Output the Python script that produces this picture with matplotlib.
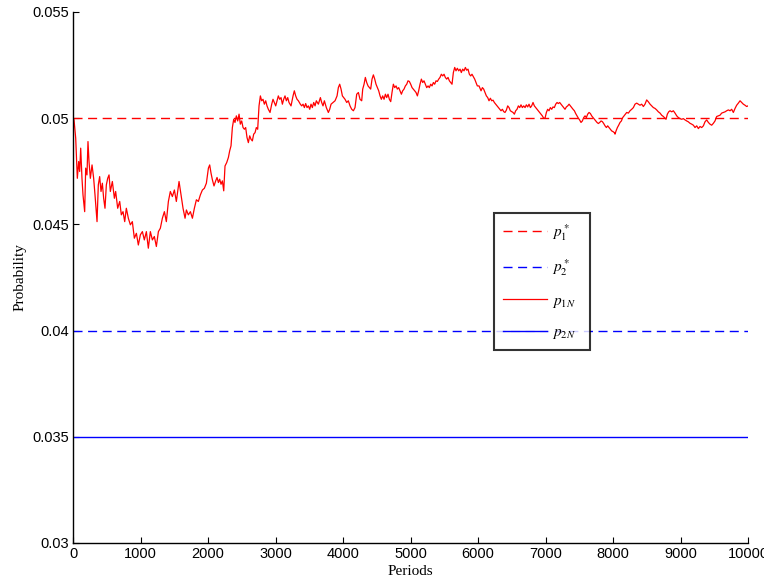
#!/usr/bin/env python3
"Plot the simulated probability p_1N against the fixed levels p_1*, p_2*, p_2N."

import numpy as np
import matplotlib.pyplot as plt

plt.rcParams['lines.scale_dashes'] = False
plt.rcParams['mathtext.fontset'] = 'stix'

# fixed levels
p1_star = 0.05
p2_star = 0.04
p2n = 0.035

# simulated p_1N, (period, probability)
p1n_trace = [
    (0, 0.05000), (15, 0.04992), (40, 0.04906), (64, 0.04717), (84, 0.04796),
    (99, 0.04749), (114, 0.04859), (133, 0.04717), (148, 0.04639), (173, 0.04560),
    (188, 0.04765), (207, 0.04733), (222, 0.04890), (237, 0.04796), (257, 0.04717),
    (282, 0.04780), (306, 0.04717), (326, 0.04639), (356, 0.04513), (375, 0.04686),
    (395, 0.04725), (415, 0.04655), (435, 0.04694), (454, 0.04623), (474, 0.04576),
    (494, 0.04686), (514, 0.04717), (534, 0.04733), (553, 0.04655), (583, 0.04702),
    (613, 0.04623), (632, 0.04655), (662, 0.04576), (692, 0.04608), (716, 0.04545),
    (741, 0.04560), (766, 0.04513), (790, 0.04576), (820, 0.04529), (850, 0.04498),
    (879, 0.04513), (909, 0.04435), (939, 0.04458), (968, 0.04403), (998, 0.04451),
    (1028, 0.04466), (1057, 0.04427), (1087, 0.04466), (1116, 0.04388), (1146, 0.04466),
    (1176, 0.04427), (1205, 0.04443), (1235, 0.04396), (1265, 0.04466), (1294, 0.04482),
    (1324, 0.04529), (1354, 0.04560), (1383, 0.04513), (1413, 0.04608), (1442, 0.04655),
    (1472, 0.04631), (1502, 0.04662), (1531, 0.04608), (1571, 0.04702), (1600, 0.04639),
    (1630, 0.04576), (1660, 0.04529), (1680, 0.04568), (1709, 0.04545), (1739, 0.04560),
    (1769, 0.04529), (1798, 0.04576), (1828, 0.04616), (1857, 0.04608), (1887, 0.04639),
    (1917, 0.04662), (1946, 0.04670), (1976, 0.04694), (2006, 0.04765), (2025, 0.04780),
    (2045, 0.04741), (2065, 0.04710), (2089, 0.04681), (2114, 0.04705), (2134, 0.04721),
    (2154, 0.04697), (2173, 0.04713), (2193, 0.04689), (2213, 0.04705), (2233, 0.04658),
    (2252, 0.04775), (2277, 0.04791), (2302, 0.04815), (2321, 0.04846), (2341, 0.04870),
    (2361, 0.04956), (2381, 0.04995), (2400, 0.04980), (2420, 0.05011), (2440, 0.04987),
    (2460, 0.05019), (2479, 0.04972), (2499, 0.04987), (2519, 0.04956), (2539, 0.04948),
    (2558, 0.04956), (2578, 0.04909), (2598, 0.04885), (2618, 0.04917), (2637, 0.04901),
    (2657, 0.04893), (2677, 0.04925), (2697, 0.04932), (2716, 0.04956), (2736, 0.04948),
    (2756, 0.05058), (2776, 0.05105), (2795, 0.05082), (2815, 0.05089), (2835, 0.05066),
    (2855, 0.05082), (2874, 0.05058), (2894, 0.05042), (2919, 0.05027), (2944, 0.05066),
    (2963, 0.05089), (2983, 0.05074), (3003, 0.05058), (3023, 0.05082), (3042, 0.05105),
    (3062, 0.05089), (3082, 0.05097), (3102, 0.05066), (3121, 0.05089), (3141, 0.05105),
    (3161, 0.05082), (3181, 0.05097), (3200, 0.05074), (3230, 0.05058), (3260, 0.05105),
    (3279, 0.05129), (3299, 0.05105), (3319, 0.05089), (3339, 0.05082), (3368, 0.05066),
    (3388, 0.05058), (3408, 0.05066), (3428, 0.05050), (3447, 0.05069), (3467, 0.05050),
    (3487, 0.05058), (3507, 0.05042), (3526, 0.05066), (3546, 0.05050), (3566, 0.05074),
    (3586, 0.05058), (3605, 0.05082), (3635, 0.05066), (3665, 0.05097), (3684, 0.05074),
    (3704, 0.05058), (3724, 0.05082), (3753, 0.05050), (3783, 0.05027), (3803, 0.05042),
    (3823, 0.05066), (3852, 0.05074), (3882, 0.05082), (3912, 0.05105), (3931, 0.05144),
    (3951, 0.05160), (3971, 0.05137), (3991, 0.05105), (4030, 0.05089), (4055, 0.05074),
    (4079, 0.05082), (4104, 0.05058), (4129, 0.05042), (4154, 0.05035), (4178, 0.05050),
    (4203, 0.05113), (4228, 0.05121), (4252, 0.05089), (4277, 0.05082), (4292, 0.05137),
    (4312, 0.05160), (4331, 0.05192), (4351, 0.05168), (4371, 0.05152), (4391, 0.05144),
    (4410, 0.05137), (4430, 0.05184), (4450, 0.05204), (4470, 0.05184), (4489, 0.05160),
    (4509, 0.05144), (4529, 0.05129), (4549, 0.05105), (4568, 0.05089), (4588, 0.05105),
    (4608, 0.05089), (4628, 0.05113), (4647, 0.05097), (4667, 0.05113), (4687, 0.05089),
    (4707, 0.05078), (4726, 0.05121), (4746, 0.05160), (4766, 0.05144), (4786, 0.05152),
    (4805, 0.05137), (4825, 0.05144), (4845, 0.05129), (4865, 0.05113), (4884, 0.05129),
    (4904, 0.05137), (4924, 0.05152), (4944, 0.05160), (4963, 0.05176), (4983, 0.05173),
    (5003, 0.05160), (5023, 0.05144), (5042, 0.05137), (5062, 0.05129), (5082, 0.05121),
    (5102, 0.05105), (5121, 0.05129), (5141, 0.05160), (5161, 0.05184), (5181, 0.05168),
    (5200, 0.05176), (5220, 0.05160), (5240, 0.05144), (5260, 0.05152), (5279, 0.05144),
    (5299, 0.05160), (5319, 0.05152), (5339, 0.05168), (5358, 0.05160), (5378, 0.05176),
    (5398, 0.05173), (5418, 0.05184), (5437, 0.05192), (5457, 0.05207), (5477, 0.05199),
    (5497, 0.05207), (5516, 0.05192), (5536, 0.05184), (5556, 0.05192), (5576, 0.05176),
    (5595, 0.05168), (5615, 0.05160), (5635, 0.05215), (5655, 0.05239), (5674, 0.05223),
    (5694, 0.05235), (5714, 0.05223), (5734, 0.05231), (5753, 0.05215), (5773, 0.05231),
    (5793, 0.05223), (5813, 0.05239), (5832, 0.05226), (5852, 0.05231), (5872, 0.05207),
    (5892, 0.05199), (5911, 0.05207), (5931, 0.05195), (5951, 0.05184), (5971, 0.05168),
    (5990, 0.05152), (6015, 0.05152), (6045, 0.05129), (6065, 0.05144), (6084, 0.05137),
    (6104, 0.05121), (6124, 0.05105), (6144, 0.05097), (6163, 0.05082), (6183, 0.05094),
    (6203, 0.05082), (6223, 0.05085), (6242, 0.05074), (6262, 0.05066), (6282, 0.05058),
    (6302, 0.05050), (6321, 0.05042), (6341, 0.05035), (6361, 0.05042), (6381, 0.05031),
    (6400, 0.05027), (6420, 0.05038), (6440, 0.05058), (6460, 0.05050), (6479, 0.05035),
    (6499, 0.05031), (6519, 0.05027), (6539, 0.05019), (6558, 0.05035), (6578, 0.05042),
    (6598, 0.05058), (6618, 0.05050), (6637, 0.05063), (6657, 0.05050), (6677, 0.05058),
    (6697, 0.05050), (6716, 0.05063), (6736, 0.05053), (6756, 0.05066), (6776, 0.05050),
    (6795, 0.05058), (6815, 0.05074), (6835, 0.05058), (6855, 0.05050), (6874, 0.05042),
    (6894, 0.05035), (6914, 0.05027), (6934, 0.05019), (6953, 0.05011), (6973, 0.05000),
    (6993, 0.05000), (7013, 0.05027), (7032, 0.05042), (7052, 0.05035), (7072, 0.05050),
    (7092, 0.05042), (7111, 0.05053), (7131, 0.05050), (7151, 0.05066), (7171, 0.05074),
    (7190, 0.05069), (7210, 0.05074), (7230, 0.05066), (7250, 0.05058), (7269, 0.05050),
    (7289, 0.05042), (7309, 0.05053), (7329, 0.05058), (7349, 0.05066), (7368, 0.05058),
    (7388, 0.05050), (7408, 0.05042), (7428, 0.05035), (7447, 0.05022), (7467, 0.05011),
    (7487, 0.05000), (7507, 0.04991), (7526, 0.04980), (7546, 0.04987), (7566, 0.05003),
    (7586, 0.05011), (7605, 0.05003), (7625, 0.05019), (7645, 0.05027), (7665, 0.05022),
    (7684, 0.05011), (7704, 0.05003), (7724, 0.04995), (7744, 0.04987), (7763, 0.04980),
    (7783, 0.04975), (7803, 0.04980), (7823, 0.04987), (7842, 0.04984), (7862, 0.04975),
    (7882, 0.04964), (7902, 0.04956), (7921, 0.04964), (7941, 0.04956), (7961, 0.04948),
    (7981, 0.04940), (8000, 0.04937), (8020, 0.04932), (8030, 0.04925), (8045, 0.04940),
    (8065, 0.04956), (8084, 0.04967), (8104, 0.04980), (8124, 0.04987), (8144, 0.05003),
    (8163, 0.05011), (8183, 0.05019), (8203, 0.05027), (8228, 0.05024), (8252, 0.05035),
    (8277, 0.05042), (8302, 0.05050), (8326, 0.05066), (8351, 0.05071), (8376, 0.05066),
    (8400, 0.05061), (8425, 0.05066), (8450, 0.05055), (8474, 0.05066), (8499, 0.05086),
    (8524, 0.05077), (8549, 0.05066), (8573, 0.05058), (8598, 0.05050), (8623, 0.05046),
    (8647, 0.05039), (8672, 0.05030), (8697, 0.05024), (8721, 0.05014), (8746, 0.05008),
    (8771, 0.05000), (8786, 0.04995), (8805, 0.05019), (8825, 0.05030), (8845, 0.05035),
    (8870, 0.05030), (8894, 0.05035), (8919, 0.05024), (8944, 0.05011), (8968, 0.05003),
    (8993, 0.04998), (9018, 0.04995), (9042, 0.04998), (9067, 0.04992), (9092, 0.04987),
    (9116, 0.04983), (9141, 0.04976), (9166, 0.04972), (9191, 0.04967), (9215, 0.04956),
    (9240, 0.04964), (9265, 0.04951), (9289, 0.04961), (9314, 0.04956), (9339, 0.04964),
    (9363, 0.04983), (9388, 0.04992), (9413, 0.04980), (9437, 0.04972), (9462, 0.04967),
    (9487, 0.04976), (9511, 0.04987), (9536, 0.05008), (9561, 0.05011), (9585, 0.05014),
    (9610, 0.05024), (9635, 0.05027), (9660, 0.05030), (9684, 0.05035), (9709, 0.05039),
    (9734, 0.05035), (9758, 0.05042), (9783, 0.05027), (9808, 0.05046), (9832, 0.05061),
    (9857, 0.05071), (9882, 0.05082), (9906, 0.05074), (9931, 0.05066), (9956, 0.05061),
    (9980, 0.05055), (10000, 0.05058),
]
periods, p1n = np.array(p1n_trace).T

xticks = np.arange(0, 10001, 1000)
yticks = [0.03, 0.035, 0.04, 0.045, 0.05, 0.055]

fig = plt.figure(figsize=(7.64, 5.86), dpi=100)
ax = fig.add_axes([73/764, 43/586, 675/764, 531/586])

# trailing spaces leave the wider right margin inside the legend box
lw = 1.0
ax.axhline(p1_star, color='r', lw=lw, dashes=(6.5, 4), label=r'$p_1^*$  ')
ax.axhline(p2_star, color='b', lw=lw, dashes=(6.5, 4), label=r'$p_2^*$  ')
ax.plot(periods, p1n, color='r', lw=0.9, label=r'$p_{1N}$  ')
ax.axhline(p2n, color='b', lw=lw, label=r'$p_{2N}$  ')

ax.set_xlim(0, 10000)
ax.set_ylim(0.03, 0.055)
ax.set_xticks(xticks)
ax.set_yticks(yticks)
ax.set_yticklabels(['%g' % v for v in yticks])

for side in ('top', 'right'):
    ax.spines[side].set_visible(False)
for side in ('left', 'bottom'):
    ax.spines[side].set_linewidth(1.0)
ax.tick_params(direction='in', length=4, width=0.8, labelsize=10.5,
               labelfontfamily='Liberation Sans', pad=3)

ax.set_xlabel('Periods', family='Liberation Serif', fontsize=11, labelpad=3)
ax.set_ylabel('Probability', family='Liberation Serif', fontsize=11, labelpad=4)

leg = ax.legend(loc='upper left', bbox_to_anchor=(494/764, (586-213)/586),
                bbox_transform=fig.transFigure, fancybox=False, frameon=True,
                edgecolor='k', fontsize=11, handlelength=2.9, handletextpad=0.3,
                labelspacing=0.95, borderpad=0.6, borderaxespad=0)
leg.get_frame().set_linewidth(1.5)

fig.savefig('out.png', dpi=100)
